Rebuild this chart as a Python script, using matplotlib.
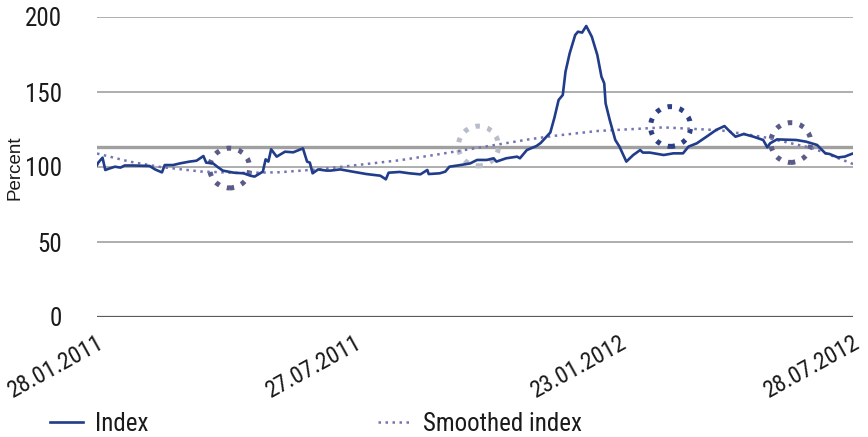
import matplotlib
matplotlib.use("Agg")
import matplotlib.pyplot as plt
from matplotlib import font_manager
from matplotlib.patches import Ellipse


def pick_narrow_font():
    fonts = [f for f in font_manager.fontManager.ttflist
             if f.style == "normal" and f.weight in (400, "normal", "regular")]
    wanted = ["Liberation Sans Narrow", "DejaVu Sans Condensed", "Roboto Condensed",
              "Open Sans Condensed", "Noto Sans Condensed", "Noto Sans SemiCondensed"]
    for name in wanted:
        for f in fonts:
            if f.name == name:
                return f.name, f.stretch
    for f in fonts:
        if f.name in ("Noto Sans", "Open Sans", "Roboto", "DejaVu Sans") and \
                f.stretch in ("condensed", "semi-condensed", 500, 625, 750):
            return f.name, f.stretch
    return None, None


narrow_name, narrow_stretch = pick_narrow_font()
if narrow_name:
    plt.rcParams["font.family"] = [narrow_name, "DejaVu Sans"]
    plt.rcParams["font.stretch"] = narrow_stretch
    big, xsize = 18, 17
else:
    plt.rcParams["font.family"] = ["Liberation Sans", "DejaVu Sans"]
    big, xsize = 15, 14

# Index (days since 28.01.2011, percent)
index_day = [0, 1, 4, 6, 9, 13, 17, 20, 26, 38, 42, 47, 49, 55, 60, 67, 72, 77, 79,
             84, 87, 91, 99, 106, 111, 114, 118, 120, 122, 124, 126, 130, 136, 142,
             149, 152, 154, 156, 160, 166, 169, 176, 185, 195, 205, 209, 211, 219,
             226, 234, 239, 240, 248, 252, 255, 263, 270, 275, 282, 287, 289, 296,
             304, 306, 311, 318, 321, 328, 331, 334, 337, 339, 342, 346, 348, 351,
             354, 358, 362, 365, 367, 368, 371, 375, 378, 383, 388, 393, 395, 400,
             410, 417, 424, 428, 434, 441, 448, 454, 458, 462, 468, 475, 482, 485,
             487, 492, 506, 513, 521, 527, 530, 536, 541, 546, 547]
index_val = [101.3, 103.0, 106.2, 98.0, 99.0, 100.2, 99.6, 101.0, 101.0, 100.7, 98.4,
             96.4, 101.3, 101.3, 102.4, 103.6, 104.2, 107.3, 102.9, 102.4, 100.2,
             97.6, 96.2, 95.8, 94.2, 93.6, 95.8, 96.9, 105.1, 103.6, 111.8, 106.9,
             110.2, 109.8, 112.4, 103.6, 102.9, 95.8, 98.4, 97.6, 97.6, 98.4, 96.9,
             95.3, 94.2, 91.8, 96.2, 96.7, 95.8, 95.1, 98.0, 95.3, 95.8, 96.9, 100.2,
             101.3, 102.4, 104.7, 104.7, 105.8, 103.6, 105.8, 106.9, 105.8, 111.3,
             114.0, 116.0, 123.0, 133.0, 144.7, 148.0, 163.6, 175.8, 188.0, 190.2,
             189.6, 194.0, 186.9, 174.7, 160.2, 155.8, 142.4, 131.3, 118.0, 113.6,
             103.6, 108.0, 111.3, 109.6, 109.6, 108.0, 109.1, 109.1, 113.6, 115.8,
             120.2, 124.7, 127.3, 123.6, 120.2, 122.0, 120.2, 118.0, 113.1, 115.8,
             118.4, 118.0, 116.9, 114.7, 109.1, 108.7, 106.4, 106.9, 108.7, 109.0]

# Smoothed index
smooth_day = [0, 24, 46, 75, 103, 132, 161, 190, 219, 246, 277, 313, 330, 362, 410,
              451, 482, 518, 547]
smooth_val = [109.0, 103.5, 100.0, 97.0, 96.0, 96.5, 98.5, 101.5, 104.5, 108.3, 113.0,
              118.5, 120.7, 124.0, 126.4, 124.5, 120.0, 112.5, 102.0]

reference_level = 113.3

tick_day = [0, 186, 378, 547]
tick_labels = ["28.01.2011", "27.07.2011", "23.01.2012", "28.07.2012"]

# highlighted spots: (day, value, colour)
highlight_day = [96, 276, 415, 502]
highlight_val = [99.3, 114.0, 127.0, 116.3]
highlight_col = ["#5b5b88", "#b9bccb", "#2c3e86", "#5b5b88"]

fig = plt.figure(figsize=(8.68, 4.37), dpi=100)
ax = fig.add_axes([97 / 868, 1 - 317 / 437, 756 / 868, 300 / 437])

for y in [50, 100, 150, 200]:
    ax.axhline(y, color="#a8a8a8", lw=1.3, zorder=1)
ax.axhline(0, color="#5a5a5a", lw=1.6, zorder=2)
ax.axhline(reference_level, color="#a0a0a0", lw=2.4, zorder=1)

for d, v, c in zip(highlight_day, highlight_val, highlight_col):
    ax.add_patch(Ellipse((d, v), 29, 26.5, fill=False, edgecolor=c, lw=3.6,
                         linestyle=(0, (0.9, 1.55)), zorder=3))

ax.plot(smooth_day, smooth_val, color="#7474b4", lw=1.8, linestyle=(0, (1, 1.8)),
        label="Smoothed index", zorder=4)
ax.plot(index_day, index_val, color="#203c8a", lw=1.9, label="Index", zorder=5)

ax.set_xlim(0, 547)
ax.set_ylim(0, 200)
ax.set_yticks([0, 50, 100, 150, 200])
ax.tick_params(axis="y", length=0, pad=25, labelsize=big, labelcolor="#1a1a1a")
ax.set_xticks(tick_day)
ax.set_xticklabels(tick_labels, rotation=29, ha="right", va="top",
                   rotation_mode="anchor", fontsize=xsize, color="#1a1a1a")
ax.tick_params(axis="x", length=0, pad=10)
for s in ax.spines.values():
    s.set_visible(False)

fig.text(15 / 868, 1 - 168 / 437, "Percent", rotation=90, ha="center", va="center",
         fontsize=13.5, color="#1a1a1a", family=["Liberation Sans", "DejaVu Sans"])

h, l = ax.get_legend_handles_labels()
for handle, label, x0 in [(h[1], l[1], 50), (h[0], l[0], 378)]:
    fig.legend([handle], [label], loc="center left",
               bbox_to_anchor=(x0 / 868, 1 - 424 / 437), frameon=False,
               fontsize=big, handlelength=1.3, handletextpad=0.5,
               borderpad=0, borderaxespad=0, labelcolor="#1a1a1a")

fig.savefig("out.png", dpi=100)
